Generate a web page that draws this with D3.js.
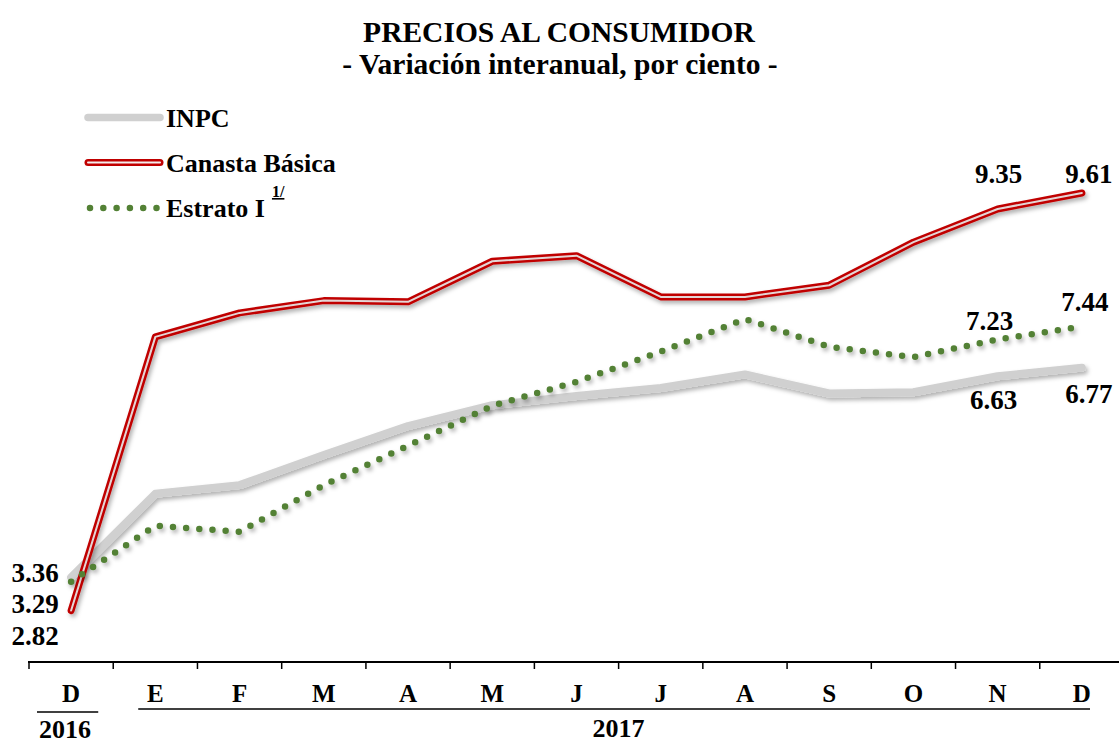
<!DOCTYPE html>
<html>
<head>
<meta charset="utf-8">
<script src="https://cdn.jsdelivr.net/npm/d3@7"></script>
<style>
  html, body { margin: 0; padding: 0; background: #fff; }
  svg { display: block; }
  text { font-family: "Liberation Serif", "Times New Roman", serif; font-weight: bold; fill: #000; }
</style>
</head>
<body>
<svg id="chart" width="1119" height="743"></svg>
<script>
// ---- Data ----
const months = ["D","E","F","M","A","M","J","J","A","S","O","N","D"];
const inpc    = [3.36, 4.72, 4.86, 5.35, 5.82, 6.16, 6.31, 6.44, 6.66, 6.35, 6.37, 6.63, 6.77];
const canasta = [2.82, 7.27, 7.66, 7.86, 7.84, 8.50, 8.59, 7.92, 7.92, 8.11, 8.81, 9.35, 9.61];
const estrato = [3.29, 4.20, 4.10, 4.86, 5.50, 6.15, 6.54, 7.03, 7.56, 7.11, 6.94, 7.23, 7.44];
const yearGroups = [
  { label: "2016", from: 0, to: 0 },
  { label: "2017", from: 1, to: 12 }
];
const titleText = "PRECIOS AL CONSUMIDOR";
const subtitleText = "- Variación interanual, por ciento -";
const legendItems = [
  { key: "inpc", label: "INPC" },
  { key: "canasta", label: "Canasta Básica" },
  { key: "estrato", label: "Estrato I", sup: "1/" }
];
const pointLabels = [
  { series: "inpc", i: 0, text: "3.36" },
  { series: "estrato", i: 0, text: "3.29" },
  { series: "canasta", i: 0, text: "2.82" },
  { series: "canasta", i: 11, text: "9.35" },
  { series: "canasta", i: 12, text: "9.61" },
  { series: "estrato", i: 11, text: "7.23" },
  { series: "estrato", i: 12, text: "7.44" },
  { series: "inpc", i: 11, text: "6.63" },
  { series: "inpc", i: 12, text: "6.77" }
];

// ---- Setup ----
const svg = d3.select("#chart");
const idx = d3.range(months.length);
const x = d3.scaleBand().domain(idx).range([29, 1124]).padding(0);
const y = d3.scaleLinear().domain([2, 10]).range([661, 169]);
const cx = i => x(i) + x.bandwidth() / 2;

const defs = svg.append("defs");
const f = defs.append("filter").attr("id", "shadow")
  .attr("x", "-10%").attr("y", "-10%").attr("width", "120%").attr("height", "130%");
f.append("feDropShadow").attr("dx", 2).attr("dy", 3).attr("stdDeviation", 2)
  .attr("flood-color", "#000").attr("flood-opacity", 0.3);

// Title
svg.append("text").attr("x", 559).attr("y", 42).attr("text-anchor", "middle")
  .style("font-size", "29.5px").text(titleText);
svg.append("text").attr("x", 560).attr("y", 74).attr("text-anchor", "middle")
  .style("font-size", "29.5px").text(subtitleText);

// Axis
const axisY = 662;
const axisG = svg.append("g").attr("transform", `translate(0,${axisY})`);
axisG.append("line").attr("x1", 28).attr("x2", 1119).attr("y1", 0).attr("y2", 0)
  .attr("stroke", "#000").attr("stroke-width", 2.2);
axisG.selectAll("line.tick").data(idx).join("line").attr("class", "tick")
  .attr("x1", d => x(d)).attr("x2", d => x(d)).attr("y1", 0).attr("y2", 7)
  .attr("stroke", "#000").attr("stroke-width", 1.5);
axisG.selectAll("text.month").data(idx).join("text").attr("class", "month")
  .attr("x", d => cx(d)).attr("y", 40).attr("text-anchor", "middle")
  .style("font-size", "25px").text(d => months[d]);

// Year groups
const ygOff = [{ l: 8, r: -15, lx: -6, ly: 76, uy: 50 }, { l: 25, r: -34, lx: 0, ly: 75, uy: 47 }];
yearGroups.forEach((g, k) => {
  const o = ygOff[k];
  const x1 = x(g.from) + o.l, x2 = x(g.to) + x.bandwidth() + o.r;
  axisG.append("line").attr("x1", x1).attr("x2", x2).attr("y1", o.uy).attr("y2", o.uy)
    .attr("stroke", "#000").attr("stroke-width", 1.5);
  axisG.append("text").attr("x", (x(g.from) + x(g.to) + x.bandwidth()) / 2 + o.lx)
    .attr("y", o.ly).attr("text-anchor", "middle").style("font-size", "26px").text(g.label);
});

// Lines
const line = d3.line().x((d, i) => cx(i)).y(d => y(d)).curve(d3.curveLinear);

const gInpc = svg.append("g").attr("filter", "url(#shadow)");
gInpc.append("path").attr("d", line(inpc)).attr("fill", "none")
  .attr("stroke", "#d0d0d0").attr("stroke-width", 8)
  .attr("stroke-linecap", "round").attr("stroke-linejoin", "round");

const gCan = svg.append("g").attr("filter", "url(#shadow)");
gCan.append("path").attr("d", line(canasta)).attr("fill", "none")
  .attr("stroke", "#c00000").attr("stroke-width", 7)
  .attr("stroke-linecap", "round").attr("stroke-linejoin", "round");
svg.append("path").attr("d", line(canasta)).attr("fill", "none")
  .attr("stroke", "#e4d6d6").attr("stroke-width", 2)
  .attr("stroke-linecap", "round").attr("stroke-linejoin", "round");

const gEst = svg.append("g").attr("filter", "url(#shadow)");
gEst.append("path").attr("d", line(estrato)).attr("fill", "none")
  .attr("stroke", "#538135").attr("stroke-width", 6.5)
  .attr("stroke-dasharray", "0 13.2").attr("stroke-linecap", "round");

// Legend
const lg = svg.append("g");
const legY = [117.5, 162.5, 208];
legendItems.forEach((it, k) => {
  const ly = legY[k];
  if (it.key === "inpc") {
    lg.append("line").attr("x1", 88).attr("x2", 160).attr("y1", ly).attr("y2", ly)
      .attr("stroke", "#d0d0d0").attr("stroke-width", 7.5).attr("stroke-linecap", "round");
  } else if (it.key === "canasta") {
    lg.append("line").attr("x1", 88).attr("x2", 160).attr("y1", ly).attr("y2", ly)
      .attr("stroke", "#c00000").attr("stroke-width", 7).attr("stroke-linecap", "round");
    lg.append("line").attr("x1", 88).attr("x2", 160).attr("y1", ly).attr("y2", ly)
      .attr("stroke", "#f4eeee").attr("stroke-width", 2).attr("stroke-linecap", "round");
  } else {
    lg.append("line").attr("x1", 90).attr("x2", 160).attr("y1", ly).attr("y2", ly)
      .attr("stroke", "#538135").attr("stroke-width", 6.5)
      .attr("stroke-dasharray", "0 13.3").attr("stroke-linecap", "round");
  }
  const t = lg.append("text").attr("x", 166).attr("y", ly + 9).style("font-size", "26px").text(it.label);
  if (it.sup) {
    const tw = t.node().getComputedTextLength();
    lg.append("text").attr("x", 166 + tw + 7).attr("y", ly - 11)
      .style("font-size", "16px").style("text-decoration", "underline").text(it.sup);
  }
});

// Point labels
const labelPos = {
  "inpc-0": { dx: -36, y: 582 }, "estrato-0": { dx: -36, y: 613 }, "canasta-0": { dx: -36, y: 645 },
  "canasta-11": { dx: 1, y: 183 }, "canasta-12": { dx: 7, y: 183 },
  "estrato-11": { dx: -8, y: 330 }, "estrato-12": { dx: 3, y: 311 },
  "inpc-11": { dx: -4, y: 409 }, "inpc-12": { dx: 7, y: 403 }
};
pointLabels.forEach(p => {
  const pos = labelPos[p.series + "-" + p.i];
  svg.append("text").attr("x", cx(p.i) + pos.dx).attr("y", pos.y)
    .attr("text-anchor", "middle").style("font-size", "27px").text(p.text);
});
</script>
</body>
</html>
